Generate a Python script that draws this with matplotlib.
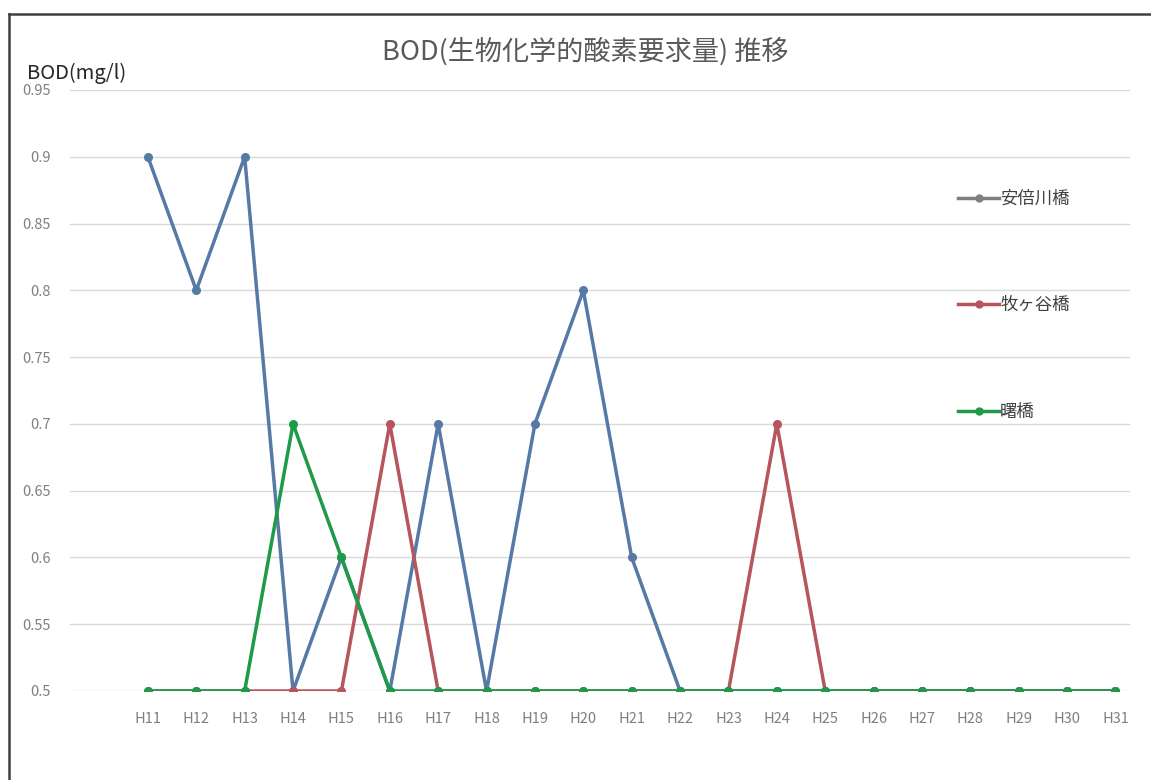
import matplotlib
matplotlib.use("Agg")
from matplotlib import pyplot as plt
from matplotlib.lines import Line2D

plt.rcParams['font.family'] = ['Noto Sans CJK JP', 'DejaVu Sans']

years = ['H11', 'H12', 'H13', 'H14', 'H15', 'H16', 'H17', 'H18', 'H19', 'H20', 'H21',
         'H22', 'H23', 'H24', 'H25', 'H26', 'H27', 'H28', 'H29', 'H30', 'H31']
abekawa = [0.9, 0.8, 0.9, 0.5, 0.6, 0.5, 0.7, 0.5, 0.7, 0.8, 0.6,
           0.5, 0.5, 0.5, 0.5, 0.5, 0.5, 0.5, 0.5, 0.5, 0.5]
makigaya = [0.5, 0.5, 0.5, 0.5, 0.5, 0.7, 0.5, 0.5, 0.5, 0.5, 0.5,
            0.5, 0.5, 0.7, 0.5, 0.5, 0.5, 0.5, 0.5, 0.5, 0.5]
akebono = [0.5, 0.5, 0.5, 0.7, 0.6, 0.5, 0.5, 0.5, 0.5, 0.5, 0.5,
           0.5, 0.5, 0.5, 0.5, 0.5, 0.5, 0.5, 0.5, 0.5, 0.5]
names = ['安倍川橋', '牧ヶ谷橋', '曙橋']

c_blue = '#5679a6'
c_red = '#b8545c'
c_green = '#1e9a48'

fig = plt.figure(figsize=(11.51, 7.80), dpi=100)
ax = fig.add_axes([70/1151, 89/780, (1130-70)/1151, (691-90)/780])

x = list(range(len(years)))
ax.plot(x, abekawa, color=c_blue, lw=2.5, marker='o', ms=5.5, zorder=3)
ax.plot(x, makigaya, color=c_red, lw=2.5, marker='o', ms=5.5, zorder=4)
ax.plot(x, akebono, color=c_green, lw=2.5, marker='o', ms=5.5, zorder=5)

ax.set_xlim(-1.61, 20.3)
ax.set_ylim(0.5, 0.95)
yt = [0.5, 0.55, 0.6, 0.65, 0.7, 0.75, 0.8, 0.85, 0.9, 0.95]
ax.set_yticks(yt)
ax.set_yticklabels([('%g' % v) for v in yt])
ax.set_xticks(x)
ax.set_xticklabels(years)
ax.tick_params(axis='both', length=0, colors='#7f7f7f', labelsize=10.5)
ax.tick_params(axis='x', pad=15)
ax.tick_params(axis='y', pad=14)
ax.grid(axis='y', color='#d9d9d9', lw=1)
ax.set_axisbelow(True)
for s in ax.spines.values():
    s.set_visible(False)

# legend: first entry is drawn gray
handles = [Line2D([], [], color='#7f7f7f', lw=2.5, marker='o', ms=5),
           Line2D([], [], color=c_red, lw=2.5, marker='o', ms=5),
           Line2D([], [], color=c_green, lw=2.5, marker='o', ms=5)]
leg = ax.legend(handles, names, loc='upper left', bbox_to_anchor=(949/1151, 1 - 181/780),
                bbox_transform=fig.transFigure, frameon=False, fontsize=12.5,
                labelspacing=5.1, handlelength=2.4, handletextpad=0.05, borderpad=0)
for t in leg.get_texts():
    t.set_color('#404040')

fig.text(585/1151, 1 - 51/780, 'BOD(生物化学的酸素要求量) 推移', ha='center', va='center',
         fontsize=19.5, color='#595959')
fig.text(27/1151, 1 - 73/780, 'BOD(mg/l)', ha='left', va='center', fontsize=14.5, color='#262626')

# outer frame
fig.add_artist(plt.Line2D([9/1151, 9/1151], [0, 1 - 14/780], transform=fig.transFigure,
                          color='#404040', lw=1.8))
fig.add_artist(plt.Line2D([9/1151, 1], [1 - 14/780, 1 - 14/780], transform=fig.transFigure,
                          color='#404040', lw=1.8))

fig.savefig('out.png', dpi=100)
